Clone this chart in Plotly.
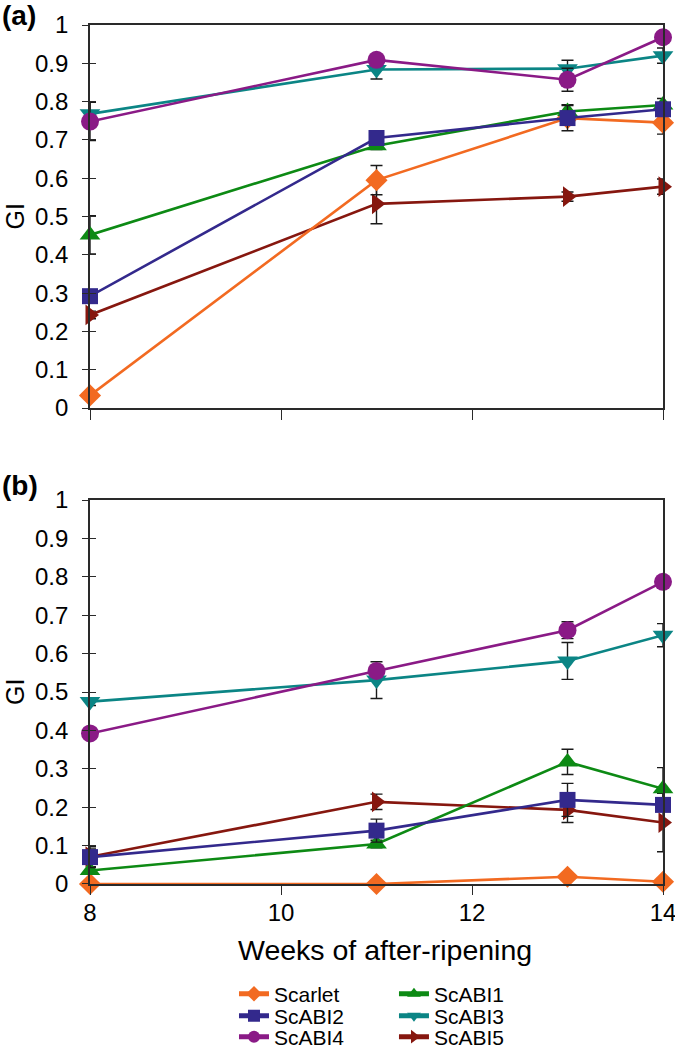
import plotly.graph_objects as go

weeks = [8, 11, 13, 14]
series_names = ["Scarlet", "ScABI1", "ScABI2", "ScABI3", "ScABI4", "ScABI5"]

# Panel (a)
a_scarlet = [0.033, 0.595, 0.757, 0.745]
a_abi1 = [0.452, 0.685, 0.774, 0.791]
a_abi2 = [0.292, 0.705, 0.757, 0.780]
a_abi3 = [0.768, 0.884, 0.886, 0.920]
a_abi4 = [0.748, 0.909, 0.857, 0.968]
a_abi5 = [0.243, 0.533, 0.552, 0.578]

a_scarlet_err = [0.01, 0.038, 0.01, 0.03]
a_abi1_err = [0.05, 0.01, 0.018, 0.017]
a_abi2_err = [0.01, 0.01, 0.033, 0.01]
a_abi3_err = [0.03, 0.025, 0.022, 0.02]
a_abi4_err = [0.05, 0.01, 0.03, 0.01]
a_abi5_err = [0.01, 0.052, 0.012, 0.02]

# Panel (b)
b_scarlet = [0.0, 0.0, 0.019, 0.006]
b_abi1 = [0.035, 0.104, 0.318, 0.248]
b_abi2 = [0.070, 0.139, 0.219, 0.206]
b_abi3 = [0.475, 0.531, 0.581, 0.648]
b_abi4 = [0.392, 0.555, 0.661, 0.787]
b_abi5 = [0.071, 0.214, 0.193, 0.160]

b_scarlet_err = [0.0, 0.0, 0.006, 0.005]
b_abi1_err = [0.01, 0.01, 0.033, 0.055]
b_abi2_err = [0.027, 0.03, 0.043, 0.01]
b_abi3_err = [0.01, 0.048, 0.048, 0.03]
b_abi4_err = [0.01, 0.01, 0.022, 0.01]
b_abi5_err = [0.02, 0.02, 0.033, 0.076]

y_tick_vals = [0, 0.1, 0.2, 0.3, 0.4, 0.5, 0.6, 0.7, 0.8, 0.9, 1]
x_tick_vals = [8, 10, 12, 14]

colors = {
    "Scarlet": "#F26A21",
    "ScABI1": "#0D8A14",
    "ScABI2": "#33298C",
    "ScABI3": "#0B8585",
    "ScABI4": "#8A1A86",
    "ScABI5": "#86170F",
}
symbols = {
    "Scarlet": "diamond",
    "ScABI1": "triangle-up",
    "ScABI2": "square",
    "ScABI3": "triangle-down",
    "ScABI4": "circle",
    "ScABI5": "triangle-right",
}
sizes = {"Scarlet": 17, "ScABI1": 18, "ScABI2": 16, "ScABI3": 18, "ScABI4": 18, "ScABI5": 18}

# legend grid: (column, row) for each series
legend_cell = {"Scarlet": (0, 0), "ScABI1": (1, 0),
               "ScABI2": (0, 1), "ScABI3": (1, 1),
               "ScABI4": (0, 2), "ScABI5": (1, 2)}
legend_ids = {name: ("legend" if i == 0 else f"legend{i + 1}")
              for i, name in enumerate(["Scarlet", "ScABI1", "ScABI2", "ScABI3", "ScABI4", "ScABI5"])}

panel_a = {"Scarlet": (a_scarlet, a_scarlet_err), "ScABI1": (a_abi1, a_abi1_err),
           "ScABI2": (a_abi2, a_abi2_err), "ScABI3": (a_abi3, a_abi3_err),
           "ScABI4": (a_abi4, a_abi4_err), "ScABI5": (a_abi5, a_abi5_err)}
panel_b = {"Scarlet": (b_scarlet, b_scarlet_err), "ScABI1": (b_abi1, b_abi1_err),
           "ScABI2": (b_abi2, b_abi2_err), "ScABI3": (b_abi3, b_abi3_err),
           "ScABI4": (b_abi4, b_abi4_err), "ScABI5": (b_abi5, b_abi5_err)}

draw_order = ["ScABI5", "Scarlet", "ScABI1", "ScABI2", "ScABI3", "ScABI4"]

fig = go.Figure()

for panel, xa, ya, show in [(panel_a, "x", "y", False), (panel_b, "x2", "y2", True)]:
    for name in draw_order:
        vals, errs = panel[name]
        fig.add_trace(go.Scatter(
            x=weeks, y=vals, name=name, mode="lines+markers",
            xaxis=xa, yaxis=ya,
            line=dict(color=colors[name], width=2.6),
            marker=dict(symbol=symbols[name], size=sizes[name], color=colors[name],
                        line=dict(width=0)),
            error_y=dict(type="data", array=errs, visible=True, color="#1a1a1a",
                         thickness=1.4, width=6),
            cliponaxis=False,
            showlegend=show,
            legend=legend_ids[name],
        ))

# invisible traces for overlay axes (inside half of the crossing y ticks)
fig.add_trace(go.Scatter(x=[], y=[], xaxis="x", yaxis="y3", showlegend=False, hoverinfo="skip"))
fig.add_trace(go.Scatter(x=[], y=[], xaxis="x2", yaxis="y4", showlegend=False, hoverinfo="skip"))

font_family = "Liberation Sans, Arial, sans-serif"
axis_line = dict(showline=True, linecolor="#2a2a2a", linewidth=1.7, mirror=True,
                 showgrid=False, zeroline=False, automargin=False)

dom_a = [0.5541, 1.0]
dom_b = [0.0, 0.447]

legend_font = dict(size=21, family=font_family, color="black")

fig.update_layout(
    template="simple_white",
    width=675, height=1050,
    margin=dict(l=90, r=12, t=25, b=166, autoexpand=False),
    paper_bgcolor="white", plot_bgcolor="white",
    font=dict(family=font_family, color="black", size=23),
    xaxis=dict(domain=[0, 1], anchor="y", range=[8, 14], tickvals=x_tick_vals,
               showticklabels=False, ticks="outside", ticklen=10, tickwidth=1.4,
               tickcolor="#2a2a2a", **axis_line),
    yaxis=dict(domain=dom_a, anchor="x", range=[0, 1], tickvals=y_tick_vals,
               ticks="outside", ticklen=6, tickwidth=1.4, tickcolor="#2a2a2a",
               ticklabelstandoff=9, tickfont=dict(size=24), **axis_line),
    xaxis2=dict(domain=[0, 1], anchor="y2", range=[8, 14], tickvals=x_tick_vals,
                ticks="outside", ticklen=9, tickwidth=1.4, tickcolor="#2a2a2a",
                ticklabelstandoff=-3, ticklabeloverflow="allow",
                tickfont=dict(size=24), **axis_line),
    yaxis2=dict(domain=dom_b, anchor="x2", range=[0, 1], tickvals=y_tick_vals,
                ticks="outside", ticklen=6, tickwidth=1.4, tickcolor="#2a2a2a",
                ticklabelstandoff=9, tickfont=dict(size=24), **axis_line),
    yaxis3=dict(overlaying="y", anchor="x", side="left", range=[0, 1], tickvals=y_tick_vals,
                ticks="inside", ticklen=6, tickwidth=1.4, tickcolor="#2a2a2a",
                showticklabels=False, showline=False, showgrid=False, zeroline=False,
                automargin=False),
    yaxis4=dict(overlaying="y2", anchor="x2", side="left", range=[0, 1], tickvals=y_tick_vals,
                ticks="inside", ticklen=6, tickwidth=1.4, tickcolor="#2a2a2a",
                showticklabels=False, showline=False, showgrid=False, zeroline=False,
                automargin=False),
    showlegend=True,
)

# legend grid placement (paper coordinates)
col_x = [0.2513, 0.5305]
row_y = [-0.1281, -0.1537, -0.1781]
for name, (c, r) in legend_cell.items():
    fig.update_layout({legend_ids[name]: dict(
        x=col_x[c], y=row_y[r], xanchor="left", yanchor="middle",
        font=legend_font, bgcolor="rgba(0,0,0,0)", itemsizing="constant",
        borderwidth=0)})

annots = [
    dict(text="<b>(a)</b>", xref="paper", yref="paper", x=0, y=1, xshift=-90, yshift=27,
         xanchor="left", yanchor="top", showarrow=False, font=dict(size=28)),
    dict(text="<b>(b)</b>", xref="paper", yref="paper", x=0, y=dom_b[1], xshift=-90, yshift=32,
         xanchor="left", yanchor="top", showarrow=False, font=dict(size=28)),
    dict(text="GI", xref="paper", yref="paper", x=0, y=sum(dom_a) / 2, xshift=-75,
         xanchor="center", yanchor="middle", textangle=-90, showarrow=False, font=dict(size=25)),
    dict(text="GI", xref="paper", yref="paper", x=0, y=sum(dom_b) / 2, xshift=-75,
         xanchor="center", yanchor="middle", textangle=-90, showarrow=False, font=dict(size=25)),
    dict(text="Weeks of after-ripening", xref="paper", yref="paper", x=0.5, y=0, xshift=8,
         yshift=-66, xanchor="center", yanchor="middle", showarrow=False, font=dict(size=28.5)),
]
fig.update_layout(annotations=annots)

fig.write_html("out.html", config={"displayModeBar": False},
               post_script="document.body.style.margin='0';")
